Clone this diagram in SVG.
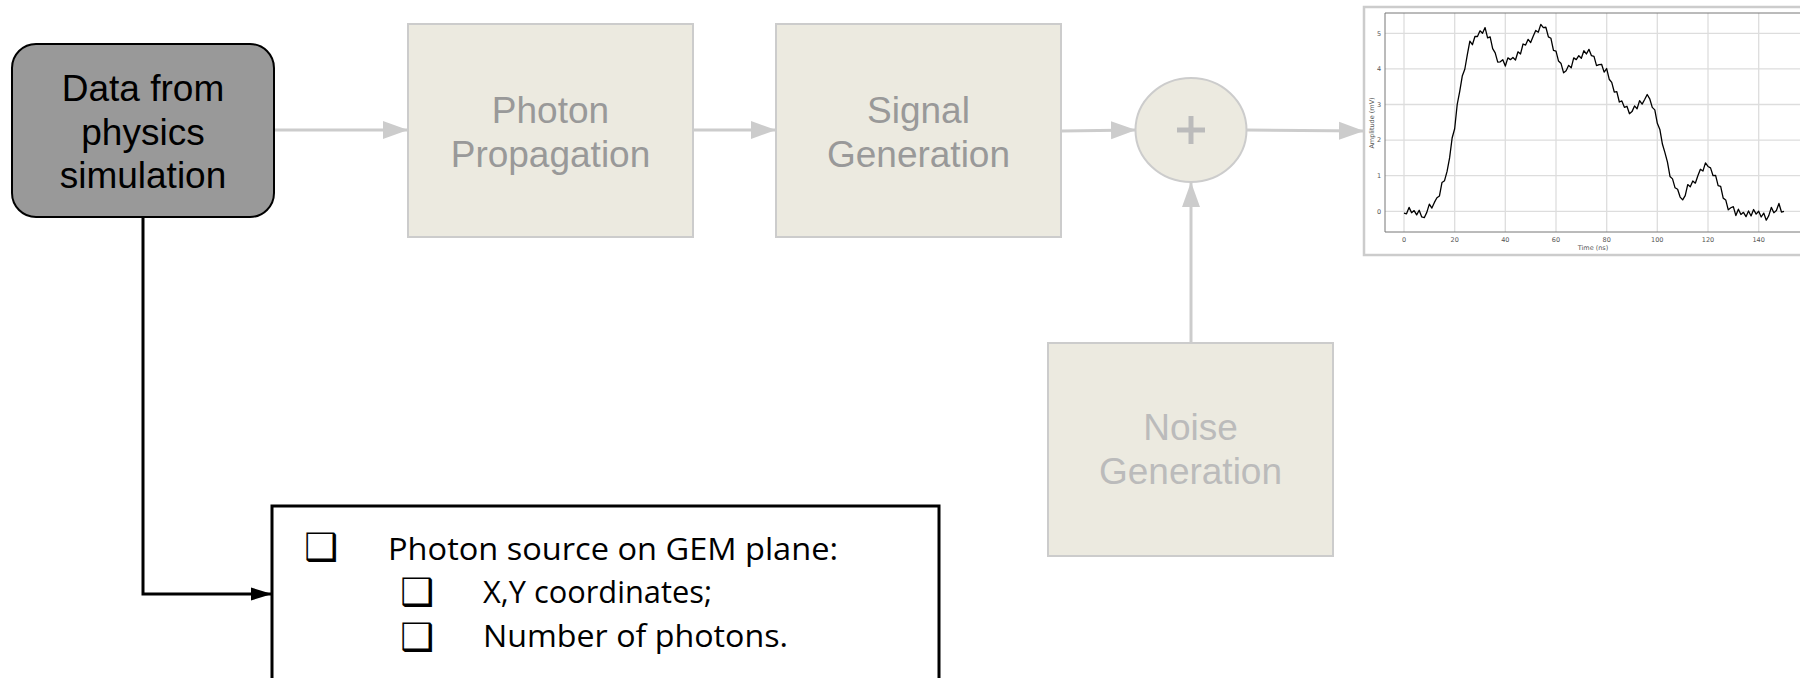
<svg xmlns="http://www.w3.org/2000/svg" width="1800" height="678" viewBox="0 0 1800 678">
<style>
.box{fill:#ECEAE0;stroke:#CCCCCC;stroke-width:2}
.lbl{font-family:"Liberation Sans",Arial,sans-serif;text-anchor:middle}
.gl{fill:#999999;font-size:37px}
.conn{stroke:#CCCCCC;stroke-width:3;fill:none}
.grid{stroke:#DDDDDD;stroke-width:1.3}
.tk{font-family:"DejaVu Sans",sans-serif;font-size:6.5px;fill:#555;text-anchor:middle}
.li{font-family:"Open Sans","Noto Sans",sans-serif;font-size:31px;fill:#000}
.bul{font-family:"DejaVu Sans",sans-serif;font-size:38px;fill:#000}
</style>
<defs>
<marker id="ag" markerUnits="userSpaceOnUse" markerWidth="26" markerHeight="20" refX="25" refY="10" orient="auto">
<path d="M0,1 L25,10 L0,19 z" fill="#CCCCCC"/>
</marker>
<marker id="ab" markerUnits="userSpaceOnUse" markerWidth="22" markerHeight="14" refX="21" refY="7" orient="auto">
<path d="M0,0.5 L21,7 L0,13.5 z" fill="#000"/>
</marker>
</defs>

<g id="connectors">
<line class="conn" x1="274" y1="130" x2="408" y2="130" marker-end="url(#ag)"/>
<line class="conn" x1="693" y1="130" x2="776" y2="130" marker-end="url(#ag)"/>
<line class="conn" x1="1061" y1="131" x2="1136" y2="130" marker-end="url(#ag)"/>
<line class="conn" x1="1247" y1="130" x2="1364" y2="131" marker-end="url(#ag)"/>
<line class="conn" x1="1191" y1="343" x2="1191" y2="182" marker-end="url(#ag)"/>
<polyline points="143,217 143,594 272,594" fill="none" stroke="#000" stroke-width="3" marker-end="url(#ab)"/>
</g>

<g id="data">
<rect x="12" y="44" width="262" height="173" rx="24" fill="#999999" stroke="#000" stroke-width="2"/>
<text class="lbl" font-size="37" fill="#000"><tspan x="143" y="101">Data from</tspan><tspan x="143" y="145">physics</tspan><tspan x="143" y="188">simulation</tspan></text>
</g>

<g id="photon">
<rect class="box" x="408" y="24" width="285" height="213"/>
<text class="lbl gl"><tspan x="550.5" y="123">Photon</tspan><tspan x="550.5" y="167">Propagation</tspan></text>
</g>

<g id="signal">
<rect class="box" x="776" y="24" width="285" height="213"/>
<text class="lbl gl"><tspan x="918.5" y="123">Signal</tspan><tspan x="918.5" y="167">Generation</tspan></text>
</g>

<g id="sum">
<ellipse cx="1191" cy="130" rx="55.5" ry="52" fill="#ECEAE0" stroke="#CCCCCC" stroke-width="2"/>
<path d="M1177,130 H1205 M1191,116 V144" stroke="#BBBBBB" stroke-width="5"/>
</g>

<g id="noise">
<rect class="box" x="1048" y="343" width="285" height="213"/>
<text class="lbl" font-size="37" fill="#BBBBBB"><tspan x="1190.5" y="440">Noise</tspan><tspan x="1190.5" y="484">Generation</tspan></text>
</g>

<g id="plot">
<rect x="1364" y="7" width="460" height="248" fill="#fff" stroke="#CCCCCC" stroke-width="2.5"/>
<g class="grid">
<line x1="1404" y1="13" x2="1404" y2="232"/>
<line x1="1454.7" y1="13" x2="1454.7" y2="232"/>
<line x1="1505.3" y1="13" x2="1505.3" y2="232"/>
<line x1="1556" y1="13" x2="1556" y2="232"/>
<line x1="1606.7" y1="13" x2="1606.7" y2="232"/>
<line x1="1657.3" y1="13" x2="1657.3" y2="232"/>
<line x1="1708" y1="13" x2="1708" y2="232"/>
<line x1="1758.7" y1="13" x2="1758.7" y2="232"/>
<line x1="1385" y1="211.3" x2="1800" y2="211.3"/>
<line x1="1385" y1="175.7" x2="1800" y2="175.7"/>
<line x1="1385" y1="140.1" x2="1800" y2="140.1"/>
<line x1="1385" y1="104.5" x2="1800" y2="104.5"/>
<line x1="1385" y1="68.9" x2="1800" y2="68.9"/>
<line x1="1385" y1="33.3" x2="1800" y2="33.3"/>
</g>
<path d="M1385,232 V13 H1800 M1385,232 H1800" fill="none" stroke="#777" stroke-width="1"/>
<g class="tk">
<text x="1379" y="213.5">0</text>
<text x="1379" y="177.9">1</text>
<text x="1379" y="142.3">2</text>
<text x="1379" y="106.7">3</text>
<text x="1379" y="71.1">4</text>
<text x="1379" y="35.5">5</text>
<text x="1404" y="242">0</text>
<text x="1454.7" y="242">20</text>
<text x="1505.3" y="242">40</text>
<text x="1556" y="242">60</text>
<text x="1606.7" y="242">80</text>
<text x="1657.3" y="242">100</text>
<text x="1708" y="242">120</text>
<text x="1758.7" y="242">140</text>
<text x="1593" y="250">Time (ns)</text>
<text transform="translate(1374,123) rotate(-90)">Amplitude (mV)</text>
</g>
<g transform="translate(1404,211.3) scale(2.5333,-35.6)">
<path fill="none" stroke="#000" stroke-width="1.3" vector-effect="non-scaling-stroke" stroke-linejoin="round" d="M0,-0.05 L1,-0.07 L2,0.11 L3,-0.04 L4,0.02 L5,-0.1 L6,0.03 L7,-0.16 L8,-0.18 L9,-0.03 L10,0.2 L11,0.09 L12,0.25 L13,0.38 L14,0.43 L15,0.81 L16,0.86 L17,1.12 L18,1.5 L19,2.06 L20,2.32 L21,3 L22,3.37 L23,3.8 L24,3.99 L25,4.4 L26,4.78 L27,4.68 L28,4.91 L29,4.91 L30,5.07 L31,5 L32,5.16 L33,4.87 L34,4.9 L35,4.57 L36,4.45 L37,4.19 L38,4.2 L39,4.26 L40,4.08 L41,4.31 L42,4.26 L43,4.32 L44,4.25 L45,4.48 L46,4.42 L47,4.7 L48,4.67 L49,4.83 L50,4.74 L51,4.92 L52,5.08 L53,5.03 L54,5.25 L55,5.16 L56,5.17 L57,4.9 L58,4.86 L59,4.52 L60,4.5 L61,4.22 L62,4.15 L63,3.89 L64,3.95 L65,4.1 L66,4.03 L67,4.31 L68,4.26 L69,4.37 L70,4.3 L71,4.51 L72,4.42 L73,4.55 L74,4.37 L75,4.35 L76,4.09 L77,4.12 L78,4.13 L79,3.91 L80,4.01 L81,3.71 L82,3.62 L83,3.35 L84,3.36 L85,3.07 L86,3.1 L87,2.92 L88,2.95 L89,2.74 L90,2.8 L91,2.96 L92,2.88 L93,3.11 L94,3.01 L95,3.14 L96,3.28 L97,3.16 L98,2.92 L99,2.85 L100,2.47 L101,2.3 L102,1.89 L103,1.65 L104,1.38 L105,0.98 L106,0.91 L107,0.66 L108,0.62 L109,0.4 L110,0.32 L111,0.44 L112,0.75 L113,0.69 L114,0.85 L115,0.79 L116,1 L117,1.18 L118,1.13 L119,1.36 L120,1.26 L121,1.22 L122,1 L123,1.01 L124,0.72 L125,0.7 L126,0.37 L127,0.32 L128,0.04 L129,0.1 L130,0.13 L131,-0.12 L132,0.06 L133,-0.09 L134,-0.03 L135,-0.15 L136,0.01 L137,-0.13 L138,0.05 L139,-0.08 L140,0 L141,-0.16 L142,-0.05 L143,-0.25 L144,-0.12 L145,0.11 L146,-0.04 L147,0.02 L148,0.22 L149,-0.02 L150,0"/>
</g>
</g>

<g id="list">
<rect x="272" y="506" width="667" height="190" fill="#fff" stroke="#000" stroke-width="3"/>
<text class="bul" x="304" y="560">❑</text>
<text class="bul" x="400" y="605">❑</text>
<text class="bul" x="400" y="650">❑</text>
<text class="li" x="388" y="560" textLength="450" lengthAdjust="spacingAndGlyphs">Photon source on GEM plane:</text>
<text class="li" x="483" y="603" textLength="229" lengthAdjust="spacingAndGlyphs">X,Y coordinates;</text>
<text class="li" x="483" y="647" textLength="305" lengthAdjust="spacingAndGlyphs">Number of photons.</text>
</g>
</svg>
